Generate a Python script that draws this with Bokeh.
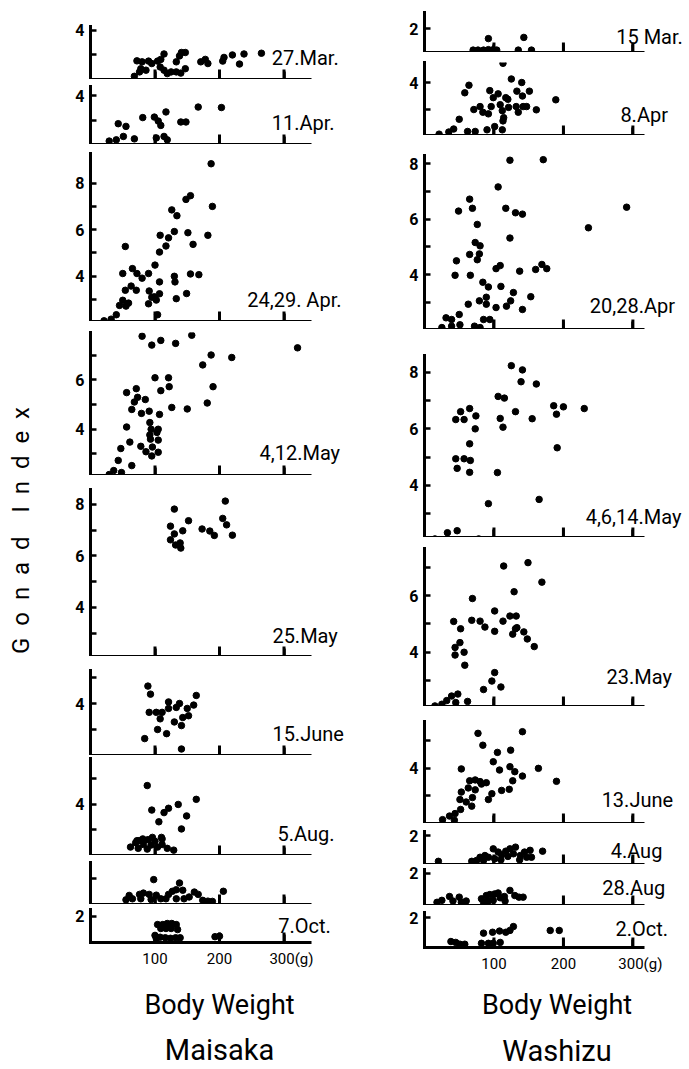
import math
from bokeh.plotting import figure
from bokeh.models import FixedTicker, Label, Title, Range1d
from bokeh.layouts import row, column
from bokeh.embed import file_html
from bokeh.resources import INLINE

FONT = "Roboto"

# ---------------- Maisaka (body weight g, gonad index) ----------------
mar27_w = [72, 80, 90, 95, 78, 86, 76, 68, 104, 109, 114, 108, 114, 119, 125, 133, 138, 141, 147, 133, 140, 147, 171, 178, 182, 205, 207, 220, 231, 238, 265]
mar27_gi = [2.76, 2.72, 2.75, 2.65, 2.44, 2.38, 2.31, 2.13, 2.75, 2.82, 3.04, 2.51, 2.38, 2.24, 2.31, 2.72, 2.96, 3.10, 3.10, 2.31, 2.26, 2.44, 2.72, 2.82, 2.65, 2.75, 2.90, 3.0, 2.63, 3.04, 3.07]

apr11_w = [43, 55, 81, 99, 105, 109, 117, 140, 148, 167, 203, 29, 40, 51, 68, 114, 119, 102]
apr11_gi = [2.85, 2.74, 3.10, 3.12, 2.96, 2.78, 3.33, 2.92, 2.92, 3.53, 3.51, 2.14, 2.19, 2.33, 2.23, 2.33, 2.19, 2.27]

apr24_w = [187, 189, 182, 155, 148, 126, 134, 108, 121, 130, 151, 117, 107, 159, 54, 50, 65, 72, 80, 90, 100, 107, 130, 131, 155, 168, 63, 54, 71, 91, 99, 107, 95, 90, 102, 133, 149, 59, 50, 45, 55, 40, 32, 21, 104]
apr24_gi = [8.83, 7.0, 5.76, 7.46, 7.3, 6.85, 6.6, 5.76, 5.65, 5.92, 5.87, 5.3, 5.04, 5.37, 5.28, 4.12, 4.33, 4.12, 3.92, 4.12, 4.48, 3.76, 4.0, 3.76, 4.1, 4.07, 3.58, 3.4, 3.4, 3.37, 3.12, 3.25, 3.1, 2.82, 2.98, 3.04, 3.26, 2.85, 2.97, 2.75, 2.72, 2.35, 2.16, 2.09, 2.35]

may4_w = [80, 95, 109, 132, 157, 321, 187, 174, 219, 190, 181, 100, 121, 122, 109, 71, 56, 73, 68, 85, 64, 79, 91, 107, 126, 150, 92, 94, 92, 105, 103, 93, 105, 56, 61, 78, 96, 86, 95, 105, 47, 43, 64, 36, 29, 48]
may4_gi = [7.76, 7.4, 7.59, 7.47, 7.8, 7.29, 7.0, 6.6, 6.9, 5.72, 5.06, 6.08, 6.08, 5.72, 5.56, 5.64, 5.48, 5.29, 5.1, 5.2, 4.8, 4.64, 4.73, 4.6, 4.88, 4.82, 4.27, 4.0, 3.77, 4.0, 3.87, 3.6, 3.56, 4.09, 3.48, 3.31, 3.28, 3.09, 2.92, 3.07, 3.22, 2.74, 2.53, 2.33, 2.17, 2.25]

may25_w = [130, 124, 130, 124, 132, 139, 140, 143, 152, 173, 185, 192, 205, 209, 211, 220]
may25_gi = [7.81, 7.15, 6.85, 6.62, 6.42, 6.5, 6.3, 6.97, 7.36, 7.04, 6.96, 6.79, 7.45, 8.12, 7.2, 6.8]

jun15_w = [89, 93, 91, 102, 111, 108, 121, 121, 133, 138, 150, 160, 164, 130, 141, 143, 152, 104, 118, 84, 141]
jun15_gi = [4.67, 4.36, 3.66, 3.66, 3.66, 3.41, 4.06, 3.81, 3.85, 4.0, 3.81, 3.94, 4.31, 3.29, 3.15, 3.46, 3.53, 3.0, 2.84, 2.65, 2.25]

aug5_w = [88, 95, 106, 114, 121, 136, 164, 149, 141, 72, 81, 96, 110, 62, 70, 75, 82, 89, 94, 100, 104, 111, 111, 119, 129, 74, 88]
aug5_gi = [4.74, 3.78, 3.32, 3.68, 3.85, 4.0, 4.2, 3.55, 3.04, 2.58, 2.65, 2.71, 2.71, 2.33, 2.5, 2.58, 2.43, 2.62, 2.41, 2.56, 2.33, 2.65, 2.43, 2.28, 2.21, 2.28, 2.25]

panel8_w = [98, 138, 206, 133, 143, 127, 161, 167, 121, 82, 76, 91, 102, 60, 65, 78, 109, 117, 133, 145, 153, 174, 182, 189, 94, 55]
panel8_gi = [2.96, 2.83, 2.51, 2.57, 2.55, 2.51, 2.48, 2.39, 2.39, 2.44, 2.39, 2.39, 2.36, 2.35, 2.22, 2.22, 2.22, 2.22, 2.22, 2.22, 2.29, 2.16, 2.13, 2.12, 2.19, 2.18]

oct7_w = [104, 112, 119, 126, 133, 109, 117, 125, 135, 100, 108, 116, 124, 132, 139, 102, 193, 200]
oct7_gi = [1.68, 1.68, 1.72, 1.72, 1.68, 1.53, 1.53, 1.53, 1.49, 1.27, 1.20, 1.18, 1.16, 1.18, 1.18, 1.15, 1.22, 1.24]

# ---------------- Washizu ----------------
mar15_w = [92, 143, 70, 77, 85, 92, 99, 135, 154, 104]
mar15_gi = [1.58, 1.63, 1.1, 1.1, 1.1, 1.12, 1.12, 1.1, 1.1, 1.1]

apr8_w = [113, 125, 64, 58, 140, 94, 106, 99, 117, 133, 151, 141, 189, 80, 71, 84, 92, 96, 109, 120, 112, 121, 114, 113, 132, 135, 142, 147, 161, 50, 42, 35, 21, 62, 73, 90, 101, 112]
apr8_gi = [4.71, 4.13, 3.9, 3.62, 4.0, 3.7, 3.58, 3.44, 3.44, 3.68, 3.68, 3.5, 3.36, 3.11, 3.0, 2.9, 2.84, 3.11, 3.18, 3.38, 2.96, 3.08, 2.7, 2.58, 3.11, 2.9, 3.11, 3.11, 2.99, 2.64, 2.28, 2.17, 2.09, 2.19, 2.19, 2.25, 2.37, 2.25]

apr20_w = [123, 171, 106, 65, 69, 49, 117, 131, 141, 76, 291, 236, 123, 73, 80, 65, 79, 76, 46, 44, 66, 103, 109, 137, 160, 169, 176, 84, 92, 110, 128, 153, 89, 79, 63, 89, 103, 118, 124, 141, 31, 50, 39, 85, 94, 25, 39, 51, 72, 80]
apr20_gi = [8.12, 8.14, 7.16, 6.72, 6.39, 6.29, 6.39, 6.23, 6.18, 5.81, 6.43, 5.69, 5.32, 5.16, 5.04, 4.73, 4.75, 4.54, 4.5, 3.98, 3.98, 4.22, 4.33, 4.13, 4.19, 4.37, 4.22, 3.73, 3.56, 3.58, 3.36, 3.21, 3.19, 3.06, 2.94, 2.94, 2.82, 2.87, 3.06, 2.75, 2.45, 2.57, 2.39, 2.39, 2.39, 2.1, 2.15, 2.2, 2.15, 2.1]

may4w_w = [125, 141, 139, 161, 106, 115, 131, 109, 113, 155, 186, 200, 190, 230, 191, 52, 65, 45, 57, 74, 73, 65, 45, 57, 66, 47, 65, 105, 92, 165, 47, 33, 15, 22, 78]
may4w_gi = [8.24, 8.09, 7.67, 7.59, 7.15, 7.09, 6.61, 6.37, 6.06, 6.36, 6.82, 6.78, 6.52, 6.72, 5.33, 6.61, 6.72, 6.33, 6.33, 6.46, 6.0, 5.47, 4.94, 4.94, 4.88, 4.6, 4.46, 4.45, 3.35, 3.5, 2.39, 2.32, 2.1, 2.07, 2.1]

may23_w = [149, 114, 169, 129, 69, 101, 42, 68, 80, 87, 113, 123, 132, 101, 131, 133, 127, 143, 148, 158, 52, 51, 44, 44, 57, 58, 101, 97, 110, 85, 62, 48, 39, 32, 25, 15, 45]
may23_gi = [7.17, 7.05, 6.48, 6.14, 5.9, 5.46, 5.09, 5.13, 5.1, 4.89, 5.1, 5.28, 5.28, 4.74, 4.83, 4.87, 4.64, 4.72, 4.47, 4.2, 4.83, 4.34, 4.17, 3.9, 4.0, 3.54, 3.28, 2.98, 2.77, 2.68, 2.26, 2.52, 2.45, 2.29, 2.16, 2.1, 2.22]

jun13_w = [141, 77, 84, 105, 124, 99, 108, 123, 130, 141, 127, 122, 111, 97, 92, 164, 190, 53, 65, 73, 80, 89, 82, 63, 73, 53, 69, 51, 60, 68, 52, 44, 36, 26, 43]
jun13_gi = [5.33, 5.27, 4.84, 4.58, 4.66, 4.24, 3.94, 4.06, 3.88, 3.72, 3.55, 3.24, 3.2, 3.08, 2.87, 4.0, 3.53, 3.98, 3.55, 3.58, 3.52, 3.48, 3.43, 3.29, 3.22, 3.14, 2.94, 2.87, 2.78, 2.63, 2.51, 2.36, 2.27, 2.14, 2.12]

aug4_w = [99, 106, 111, 117, 123, 131, 128, 120, 138, 144, 152, 147, 170, 80, 87, 92, 75, 68, 85, 101, 20, 110, 137, 154]
aug4_gi = [1.54, 1.43, 1.34, 1.46, 1.54, 1.6, 1.37, 1.28, 1.31, 1.43, 1.49, 1.25, 1.46, 1.25, 1.31, 1.25, 1.14, 1.11, 1.14, 1.2, 1.11, 1.16, 1.16, 1.25]

aug28_w = [18, 25, 36, 41, 50, 53, 60, 82, 89, 94, 101, 106, 85, 92, 99, 109, 115, 116, 123, 130, 136, 142]
aug28_gi = [1.1, 1.16, 1.28, 1.14, 1.26, 1.1, 1.14, 1.21, 1.31, 1.34, 1.36, 1.39, 1.1, 1.14, 1.16, 1.24, 1.28, 1.14, 1.47, 1.31, 1.26, 1.26]

oct2_w = [128, 123, 117, 108, 98, 85, 181, 194, 38, 45, 51, 58, 82, 92, 99, 109]
oct2_gi = [1.7, 1.57, 1.51, 1.55, 1.51, 1.48, 1.57, 1.57, 1.2, 1.17, 1.11, 1.11, 1.14, 1.14, 1.14, 1.17]

maisaka_dates = ["27.Mar.", "11.Apr.", "24,29. Apr.", "4,12.May", "25.May", "15.June", "5.Aug.", "", "7.Oct."]
washizu_dates = ["15 Mar.", "8.Apr", "20,28.Apr", "4,6,14.May", "23.May", "13.June", "4.Aug", "28.Aug", "2.Oct."]
maisaka_w = [mar27_w, apr11_w, apr24_w, may4_w, may25_w, jun15_w, aug5_w, panel8_w, oct7_w]
maisaka_gi = [mar27_gi, apr11_gi, apr24_gi, may4_gi, may25_gi, jun15_gi, aug5_gi, panel8_gi, oct7_gi]
washizu_w = [mar15_w, apr8_w, apr20_w, may4w_w, may23_w, jun13_w, aug4_w, aug28_w, oct2_w]
washizu_gi = [mar15_gi, apr8_gi, apr20_gi, may4w_gi, may23_gi, jun13_gi, aug4_gi, aug28_gi, oct2_gi]

x_tick_values = [100, 200, 300]
x_tick_labels = {100: "100", 200: "200", 300: "\u00a0\u00a0\u00a0\u00a0300(g)"}

# y-axis ranges, all ticks and labelled ticks per panel
left_ylim = [(2, 4.16), (2, 4.37), (2.06, 9.27), (2.13, 7.91), (2.1, 8.57), (2, 5.27), (2, 5.8), (2, 3.62), (1, 2.25)]
left_yticks = [[3, 4], [3, 4], [3, 4, 5, 6, 7, 8], [3, 4, 5, 6, 7], [3, 4, 5, 6, 7, 8], [3, 4, 5], [3, 4, 5], [3], [2]]
left_ylab = [[4], [4], [4, 6, 8], [4, 6], [4, 6, 8], [4], [4], [], [2]]
right_ylim = [(1, 2.67), (2.04, 4.74), (2.03, 8.29), (2.15, 8.6), (2.08, 7.67), (2, 5.7), (1, 2.14), (1, 2.12), (1, 2.17)]
right_yticks = [[2], [3, 4], [3, 4, 5, 6, 7, 8], [3, 4, 5, 6, 7, 8], [3, 4, 5, 6, 7], [3, 4, 5], [2], [2], [2]]
right_ylab = [[2], [4], [4, 6, 8], [4, 6, 8], [4, 6], [4], [2], [2], [2]]

# layout (pixels) and date label anchors
left_frame_h = [53, 58, 168, 143, 167, 85, 97, 42, 33]
left_gap = [26, 7, 9, 11, 14, 14, 3, 7, 5]
right_frame_h = [40, 73, 174, 182, 158, 102, 33, 36, 35]
right_gap = [12, 10, 20, 26, 11, 15, 8, 5, 7]
left_lab_pos = [(281, 2.86), (281, 2.86), (243, 3.0), (262, 3.02), (282, 2.88), (282, 2.81), (290, 2.86), (290, 2.5), (291, 1.64)]
right_lab_pos = [(276, 1.63), (282, 2.78), (238, 2.89), (232, 2.86), (262, 3.11), (255, 2.84), (268, 1.48), (256, 1.53), (275, 1.63)]


def make_panel(w, gi, date, ylim, yticks, ylab, frame_w, frame_h, gap, b_left, b_right,
               x_end, axis_end, lab_pos, last=False, site=None, lab_standoff=7,
               axlab_standoff=14, title_standoff=8):
    y0, y1 = ylim
    p = figure(frame_width=frame_w, frame_height=frame_h,
               x_range=Range1d(0, x_end), y_range=Range1d(y0, y1),
               output_backend="svg", toolbar_location=None,
               min_border_top=gap, min_border_bottom=0,
               min_border_left=b_left, min_border_right=b_right)
    p.outline_line_color = None
    p.xgrid.visible = False
    p.ygrid.visible = False
    p.scatter(w, gi, size=6.5, fill_color="black", line_color="black")
    # inward x tick marks at the tick values
    tick_h = 10.0 * (y1 - y0) / frame_h
    p.segment(x0=x_tick_values, y0=[y0] * 3, x1=x_tick_values, y1=[y0 + tick_h] * 3,
              line_width=3, line_color="black")
    xa = p.xaxis[0]
    ya = p.yaxis[0]
    for ax in (xa, ya):
        ax.axis_line_width = 3
        ax.axis_line_color = "black"
        ax.major_tick_line_width = 2.5
        ax.major_tick_line_color = "black"
        ax.minor_tick_line_width = 2.5
        ax.minor_tick_line_color = "black"
        ax.major_tick_out = 0
        ax.minor_tick_out = 0
    ya.axis_line_cap = "square"
    xa.bounds = (0, axis_end)
    xa.major_tick_in = 8
    xa.minor_tick_in = 8
    if last:
        xa.ticker = FixedTicker(ticks=x_tick_values, minor_ticks=[])
        xa.major_label_overrides = x_tick_labels
        xa.major_label_text_font = FONT
        xa.major_label_text_font_size = "15px"
        xa.major_label_text_color = "black"
        xa.major_label_standoff = lab_standoff
        xa.axis_label = "Body Weight"
        xa.axis_label_text_font = FONT
        xa.axis_label_text_font_size = "27px"
        xa.axis_label_text_font_style = "normal"
        xa.axis_label_text_color = "black"
        xa.axis_label_standoff = axlab_standoff
        p.add_layout(Title(text=site, align="center", text_font=FONT, text_font_size="29px",
                           text_font_style="normal", text_color="black",
                           standoff=title_standoff), "below")
    else:
        xa.ticker = FixedTicker(ticks=[], minor_ticks=x_tick_values)
        xa.major_label_standoff = 0
    ya.ticker = FixedTicker(ticks=ylab, minor_ticks=[t for t in yticks if t not in ylab])
    ya.major_tick_in = 6
    ya.minor_tick_in = 6
    ya.major_label_text_font = FONT
    ya.major_label_text_font_size = "16px"
    ya.major_label_text_font_style = "bold"
    ya.major_label_text_color = "black"
    ya.major_label_standoff = 6
    if date:
        p.add_layout(Label(x=lab_pos[0], y=lab_pos[1], text=date, text_font=FONT,
                           text_font_size="20px", text_align="left",
                           text_baseline="middle", text_color="black"))
    return p


left_figs = []
for i in range(9):
    left_figs.append(make_panel(maisaka_w[i], maisaka_gi[i], maisaka_dates[i], left_ylim[i],
                                left_yticks[i], left_ylab[i], 258, left_frame_h[i], left_gap[i],
                                42, 36, 400, 342, left_lab_pos[i], last=(i == 8), site="Maisaka",
                                lab_standoff=7, axlab_standoff=18, title_standoff=14))
right_figs = []
for i in range(9):
    right_figs.append(make_panel(washizu_w[i], washizu_gi[i], washizu_dates[i], right_ylim[i],
                                 right_yticks[i], right_ylab[i], 265, right_frame_h[i], right_gap[i],
                                 40, 0, 381.5, 317, right_lab_pos[i], last=(i == 8), site="Washizu",
                                 lab_standoff=7, axlab_standoff=13, title_standoff=16))

g = figure(width=48, height=1060, x_range=Range1d(0, 1), y_range=Range1d(0, 1),
           output_backend="svg", toolbar_location=None, min_border=0)
g.axis.visible = False
g.grid.visible = False
g.outline_line_color = None
g.add_layout(Label(x=0.42, y=0.5, text="G\u00a0 o\u00a0 n\u00a0 a\u00a0 d\u00a0 \u00a0 I\u00a0 n\u00a0 d\u00a0 e\u00a0 x",
                   angle=math.pi / 2, text_align="center", text_baseline="middle", text_font=FONT,
                   text_font_size="24px", text_color="black"))

layout = row(g, column(*left_figs, spacing=0), column(*right_figs, spacing=0), spacing=0)

open("out.html", "w").write(file_html(layout, INLINE))
